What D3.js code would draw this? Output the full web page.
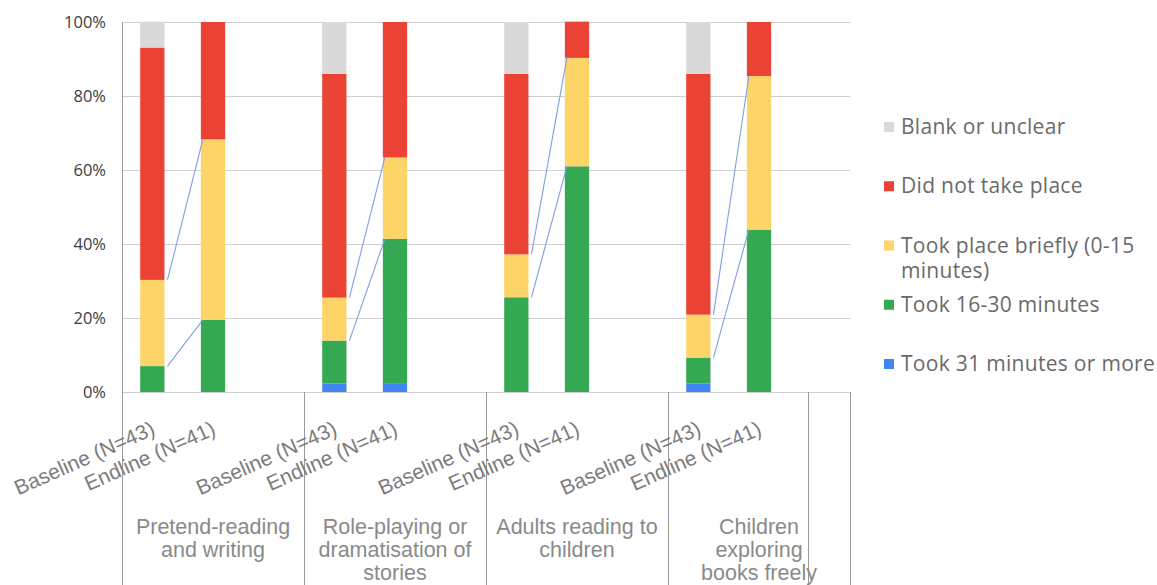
<!DOCTYPE html>
<html>
<head>
<meta charset="utf-8">
<script src="https://cdn.jsdelivr.net/npm/d3@7"></script>
<style>
  html, body { margin: 0; padding: 0; background: #fff; }
  svg { display: block; }
</style>
</head>
<body>
<svg id="chart" width="1157" height="585"></svg>
<script>
// Activity categories and survey rounds
const categories = [
  "Pretend-reading and writing",
  "Role-playing or dramatisation of stories",
  "Adults reading to children",
  "Children exploring books freely"
];
const categoryLines = [
  ["Pretend-reading", "and writing"],
  ["Role-playing or", "dramatisation of", "stories"],
  ["Adults reading to", "children"],
  ["Children", "exploring", "books freely"]
];
const rounds = ["Baseline (N=43)", "Endline (N=41)"];

// Share of classrooms (%) per bar: cat1 baseline, cat1 endline, cat2 baseline, ...
const took31Plus   = [0.0, 0.0, 2.3, 2.4, 0.0, 0.0, 2.3, 0.0];
const took16to30   = [7.0, 19.5, 11.6, 39.0, 25.6, 61.0, 7.0, 43.9];
const tookBriefly  = [23.3, 48.8, 11.6, 22.0, 11.6, 29.3, 11.6, 41.5];
const didNotTake   = [62.8, 31.7, 60.5, 36.6, 48.8, 9.8, 65.1, 14.6];
const blankUnclear = [7.0, 0.0, 14.0, 0.0, 14.0, 0.0, 14.0, 0.0];

const yTicks = [0, 20, 40, 60, 80, 100];

// Stack order, bottom to top
const series = [
  { key: "Took 31 minutes or more", values: took31Plus, color: "#4285f4" },
  { key: "Took 16-30 minutes", values: took16to30, color: "#34a853" },
  { key: "Took place briefly (0-15 minutes)", values: tookBriefly, color: "#fcd467" },
  { key: "Did not take place", values: didNotTake, color: "#ea4335" },
  { key: "Blank or unclear", values: blankUnclear, color: "#d9d9d9" }
];
const legendItems = [
  { lines: ["Blank or unclear"], color: "#d9d9d9" },
  { lines: ["Did not take place"], color: "#ea4335" },
  { lines: ["Took place briefly (0-15", "minutes)"], color: "#fcd467" },
  { lines: ["Took 16-30 minutes"], color: "#34a853" },
  { lines: ["Took 31 minutes or more"], color: "#4285f4" }
];

// Build row table for d3.stack
const rows = [];
categories.forEach((c, ci) => {
  rounds.forEach((r, ri) => {
    const i = ci * rounds.length + ri;
    const row = { category: c, round: r, idx: i };
    series.forEach(s => { row[s.key] = s.values[i] / 100; });
    rows.push(row);
  });
});
const stacked = d3.stack().keys(series.map(s => s.key))(rows);

const svg = d3.select("#chart");
const plot = { left: 122, right: 850, top: 22, bottom: 392 };

const x0 = d3.scaleBand().domain(categories).range([plot.left, plot.right]);
// three slots per category: baseline, endline, and an empty spacer
const slots = [...rounds, "spacer"];
const x1 = d3.scaleBand().domain(slots).range([0, x0.bandwidth()])
  .paddingInner(0.6).paddingOuter(0.3);
const y = d3.scaleLinear().domain([0, 1]).range([plot.bottom, plot.top]);

const barX = d => x0(d.data.category) + x1(d.data.round);

// Horizontal gridlines
svg.append("g")
  .selectAll("line")
  .data(yTicks)
  .join("line")
  .attr("x1", plot.left).attr("x2", plot.right)
  .attr("y1", d => Math.round(y(d / 100)) + 0.5)
  .attr("y2", d => Math.round(y(d / 100)) + 0.5)
  .attr("stroke", "#cfcfcf").attr("stroke-width", 1.2);

// Y axis
const yAxis = d3.axisLeft(y)
  .tickValues(yTicks.map(t => t / 100))
  .tickFormat(d3.format(".0%"))
  .tickSize(0).tickPadding(16);
const ya = svg.append("g").attr("transform", `translate(${plot.left},0)`).call(yAxis);
ya.select(".domain").remove();
ya.selectAll("text")
  .attr("font-family", "'Open Sans', sans-serif")
  .attr("font-size", 16.5)
  .attr("fill", "#3c3c3c");

// Left axis line through the category label area
svg.append("line")
  .attr("x1", plot.left + 0.5).attr("x2", plot.left + 0.5)
  .attr("y1", plot.top).attr("y2", 585)
  .attr("stroke", "#9a9a9a").attr("stroke-width", 1);

// Category dividers below the axis
const dividers = categories.slice(1).map(c => x0(c))
  .concat([x0(categories[3]) + x1("spacer"), plot.right]);
svg.append("g")
  .selectAll("line")
  .data(dividers)
  .join("line")
  .attr("x1", d => Math.round(d) + 0.5).attr("x2", d => Math.round(d) + 0.5)
  .attr("y1", plot.bottom).attr("y2", 585)
  .attr("stroke", "#9a9a9a").attr("stroke-width", 1);

// Stacked bars
svg.append("g")
  .selectAll("g")
  .data(stacked)
  .join("g")
  .attr("fill", (d, i) => series[i].color)
  .selectAll("rect")
  .data(d => d.filter(p => p[1] - p[0] > 0))
  .join("rect")
  .attr("x", barX)
  .attr("width", x1.bandwidth())
  .attr("y", d => y(d[1]))
  .attr("height", d => y(d[0]) - y(d[1]));

// Thin connector lines between baseline and endline boundaries
const connectorKeys = ["Took 16-30 minutes", "Took place briefly (0-15 minutes)"];
const connectors = [];
categories.forEach((c, ci) => {
  connectorKeys.forEach(k => {
    const layer = stacked.find(s => s.key === k);
    const b = layer[ci * 2], e = layer[ci * 2 + 1];
    connectors.push({
      x1: barX(b) + x1.bandwidth() + 3, y1: y(b[1]),
      x2: barX(e) + 2, y2: y(e[1])
    });
  });
});
svg.append("g")
  .selectAll("line")
  .data(connectors)
  .join("line")
  .attr("x1", d => d.x1).attr("y1", d => d.y1)
  .attr("x2", d => d.x2).attr("y2", d => d.y2)
  .attr("stroke", "#7f9fe6").attr("stroke-width", 1.1);

// Rotated round labels
const roundLabels = [];
categories.forEach(c => rounds.forEach(r => roundLabels.push({ c, r })));
svg.append("g")
  .selectAll("text")
  .data(roundLabels)
  .join("text")
  .attr("transform", d => `translate(${x0(d.c) + x1(d.r) + x1.bandwidth() / 2 + 4},434) rotate(-24)`)
  .attr("text-anchor", "end")
  .attr("font-family", "'Liberation Sans', Arial, sans-serif")
  .attr("font-size", 21)
  .attr("fill", "#7c7c7c")
  .text(d => d.r);

// Category labels
const catG = svg.append("g")
  .selectAll("text")
  .data(categories)
  .join("text")
  .attr("text-anchor", "middle")
  .attr("font-family", "'Liberation Sans', Arial, sans-serif")
  .attr("font-size", 21.5)
  .attr("fill", "#8a8a8a");
catG.each(function(c, i) {
  const t = d3.select(this);
  categoryLines[i].forEach((line, li) => {
    t.append("tspan")
      .attr("x", x0(c) + x0.bandwidth() / 2)
      .attr("y", 534 + li * 23)
      .text(line);
  });
});

// Legend
const legend = svg.append("g").attr("transform", "translate(884,0)");
const legendY = d3.scalePoint().domain(d3.range(legendItems.length)).range([127, 364]);
const li = legend.selectAll("g").data(legendItems).join("g")
  .attr("transform", (d, i) => `translate(0,${legendY(i)})`);
li.append("rect")
  .attr("x", 0).attr("y", -5).attr("width", 10).attr("height", 10)
  .attr("fill", d => d.color);
li.append("text")
  .attr("font-family", "'Open Sans', sans-serif")
  .attr("font-size", 21)
  .attr("letter-spacing", 0.3)
  .attr("fill", "#6a6a6a")
  .each(function(d) {
    const t = d3.select(this);
    d.lines.forEach((line, k) => {
      t.append("tspan").attr("x", 17).attr("y", 7 + k * 25).text(line);
    });
  });
</script>
</body>
</html>
